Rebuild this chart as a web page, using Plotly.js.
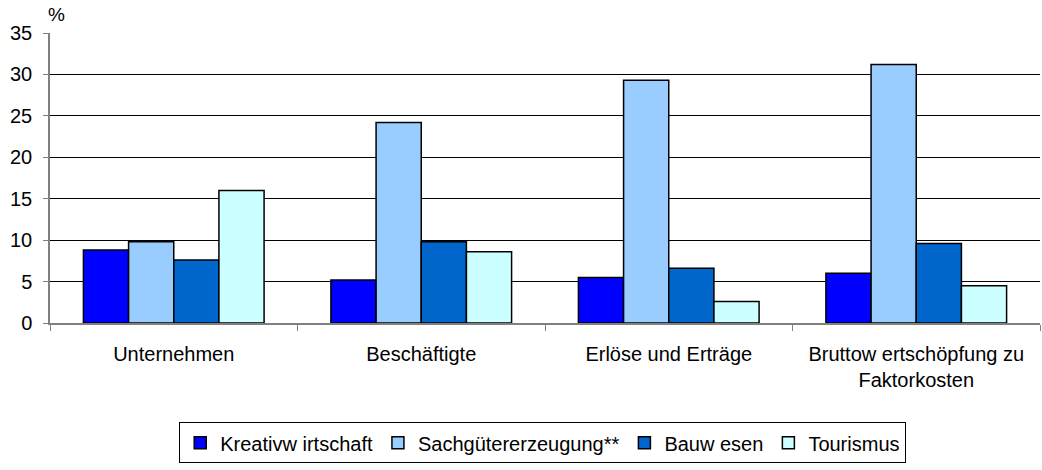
<!DOCTYPE html>
<html>
<head>
<meta charset="utf-8">
<script src="https://cdn.plot.ly/plotly-3.0.1.min.js"></script>
<style>
  html, body { margin: 0; padding: 0; background: #fff; }
  #chart { width: 1042px; height: 470px; }
</style>
</head>
<body>
<div id="chart"></div>
<script>
const categories = ["Unternehmen", "Beschäftigte", "Erlöse und Erträge", "Bruttow ertschöpfung zu<br>Faktorkosten"];
const seriesNames = ["Kreativw irtschaft", "Sachgütererzeugung**", "Bauw esen", "Tourismus"];
const kreativ = [8.8, 5.2, 5.5, 6.0];
const sachgueter = [9.8, 24.2, 29.3, 31.2];
const bau = [7.6, 9.8, 6.6, 9.6];
const tourismus = [16.0, 8.6, 2.6, 4.5];
const colors = ["#0000ff", "#99ccff", "#0066cc", "#ccffff"];

const values = [kreativ, sachgueter, bau, tourismus];

const traces = values.map((v, i) => ({
  type: "bar",
  name: seriesNames[i],
  x: categories,
  y: v,
  marker: { color: colors[i], line: { color: "#000", width: 1.5 } },
  hoverinfo: "x+y+name"
}));

const layout = {
  width: 1042,
  height: 470,
  margin: { l: 50, r: 2, t: 33, b: 147 },
  paper_bgcolor: "#fff",
  plot_bgcolor: "#fff",
  font: { family: "Liberation Sans, Arial, sans-serif", color: "#000", size: 20 },
  barmode: "group",
  bargap: 0.27,
  bargroupgap: 0,
  showlegend: true,
  legend: {
    orientation: "h",
    xref: "container",
    yref: "container",
    x: 0.172,
    xanchor: "left",
    y: 0.058,
    yanchor: "middle",
    bordercolor: "#000",
    borderwidth: 1,
    font: { size: 20 },
    itemwidth: 30,
    tracegroupgap: 0
  },
  xaxis: {
    type: "category",
    showgrid: false,
    showline: true,
    linecolor: "#808080",
    linewidth: 1.5,
    ticks: "outside",
    tickson: "boundaries",
    ticklen: 6,
    tickcolor: "#808080",
    ticklabelstandoff: 12,
    tickfont: { size: 20 }
  },
  yaxis: {
    range: [0, 35],
    dtick: 5,
    showgrid: true,
    gridcolor: "#000",
    gridwidth: 1,
    zeroline: false,
    showline: true,
    linecolor: "#808080",
    linewidth: 1.5,
    ticks: "outside",
    ticklen: 5,
    tickcolor: "#808080",
    ticklabelstandoff: 7,
    tickfont: { size: 20 }
  },
  annotations: [{
    text: "%",
    xref: "paper",
    yref: "paper",
    x: 0,
    y: 1,
    xanchor: "left",
    yanchor: "bottom",
    xshift: -4,
    yshift: 6,
    showarrow: false,
    font: { size: 19 }
  }]
};

Plotly.newPlot("chart", traces, layout, { displayModeBar: false });
</script>
</body>
</html>
